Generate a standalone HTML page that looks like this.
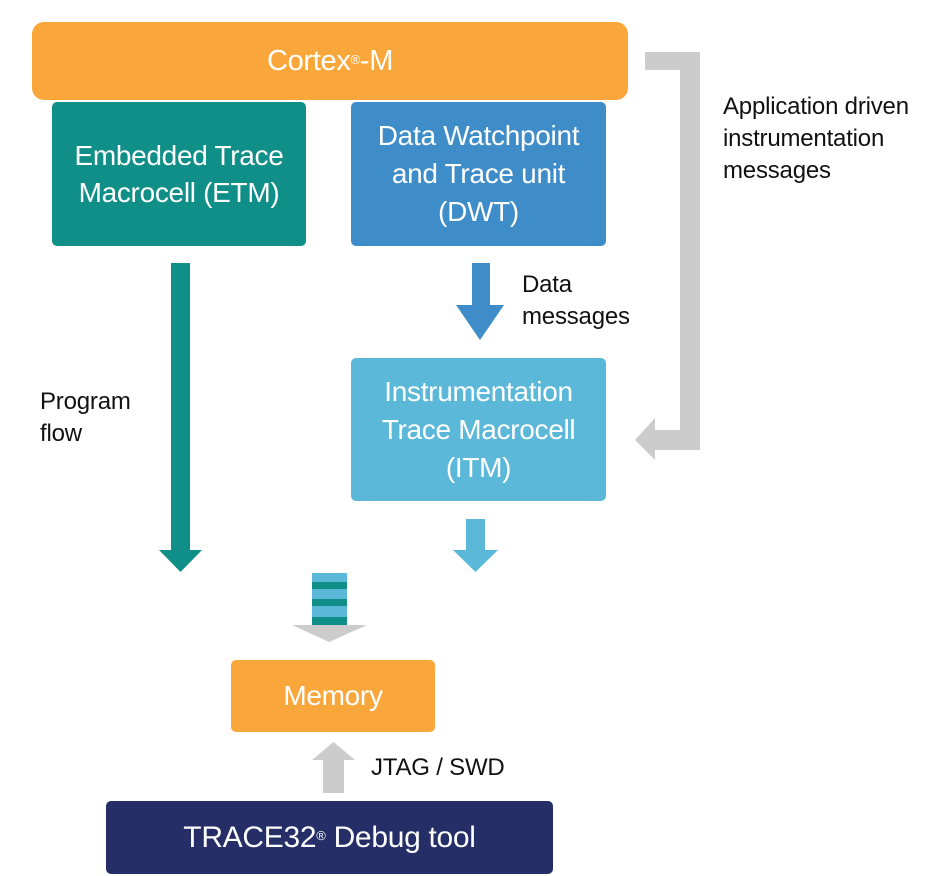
<!DOCTYPE html>
<html><head><meta charset="utf-8"><style>
body{margin:0;background:#fff;width:926px;height:876px;overflow:hidden;position:relative;font-family:"Liberation Sans",Arial,sans-serif}
.b{position:absolute;color:#fff;display:flex;align-items:center;justify-content:center;text-align:center;border-radius:5px;letter-spacing:-0.3px}
.t{position:absolute;color:#111;font-size:24px;line-height:32px;letter-spacing:-0.2px}
sup{font-size:13px;vertical-align:top;position:relative;top:-2px}
</style></head><body>
<svg width="926" height="876" style="position:absolute;left:0;top:0">
<polygon points="645,52 700,52 700,450 655,450 655,460 635,440 655,418 655,430 680,430 680,70 645,70" fill="#cccccc"/>
<rect x="171" y="263" width="19" height="288" fill="#0f8f87"/>
<polygon points="159,550 202,550 180.5,572" fill="#0f8f87"/>
<rect x="472" y="263" width="18" height="43" fill="#3e8dc8"/>
<polygon points="456,305 504,305 480,340" fill="#3e8dc8"/>
<rect x="466" y="519" width="19" height="32" fill="#5bb8d8"/>
<polygon points="453,550 498,550 475.5,572" fill="#5bb8d8"/>
<rect x="312" y="573" width="35" height="52" fill="#5bb8d8"/>
<rect x="312" y="582" width="35" height="7" fill="#0f8f87"/>
<rect x="312" y="599" width="35" height="7" fill="#0f8f87"/>
<rect x="312" y="617" width="35" height="8" fill="#0f8f87"/>
<polygon points="292,625 367,625 329,642" fill="#cccccc"/>
<rect x="323" y="759" width="21" height="34" fill="#cccccc"/>
<polygon points="312,760 355,760 333.5,742" fill="#cccccc"/>
</svg>
<div class="b" style="left:32px;top:22px;width:596px;height:78px;background:#f9a73a;font-size:29px;border-radius:12px">Cortex<sup>®</sup>-M</div>
<div class="b" style="left:52px;top:102px;width:254px;height:144px;background:#0f8f87;font-size:28px;line-height:37px">Embedded Trace<br>Macrocell (ETM)</div>
<div class="b" style="left:351px;top:102px;width:255px;height:144px;background:#3e8dc8;font-size:28px;line-height:38px">Data Watchpoint<br>and Trace unit<br>(DWT)</div>
<div class="b" style="left:351px;top:358px;width:255px;height:143px;background:#5bb8d8;font-size:28px;line-height:38px">Instrumentation<br>Trace Macrocell<br>(ITM)</div>
<div class="b" style="left:231px;top:660px;width:204px;height:72px;background:#f9a73a;font-size:28px">Memory</div>
<div class="b" style="left:106px;top:801px;width:447px;height:73px;background:#252e66;font-size:30px">TRACE32<sup>®</sup>&nbsp;Debug tool</div>
<div class="t" style="left:723px;top:91px">Application driven<br>instrumentation<br>messages</div>
<div class="t" style="left:522px;top:269px">Data<br>messages</div>
<div class="t" style="left:40px;top:386px">Program<br>flow</div>
<div class="t" style="left:371px;top:752px">JTAG / SWD</div>
</body></html>
